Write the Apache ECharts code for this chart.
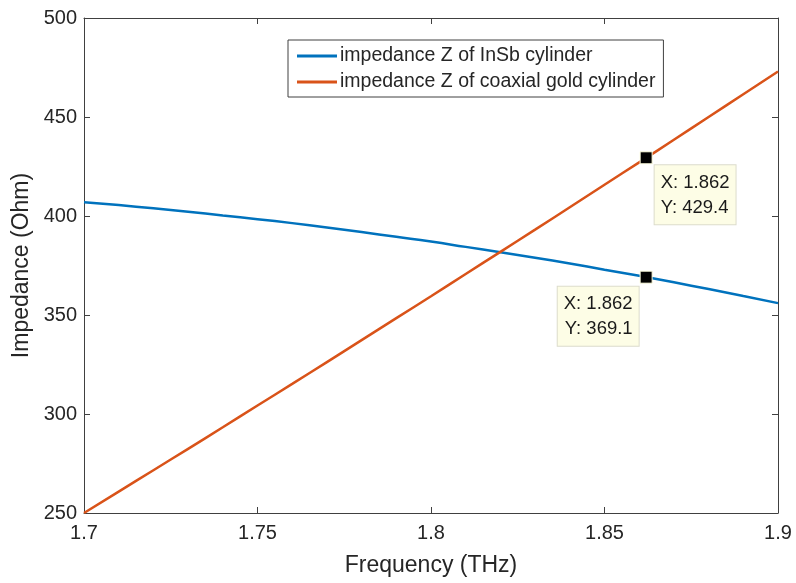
<!DOCTYPE html>
<html>
<head>
<meta charset="utf-8">
<script src="https://cdn.jsdelivr.net/npm/echarts@6/dist/echarts.min.js"></script>
<style>
  html, body { margin: 0; padding: 0; background: #fff; }
  #chart { width: 796px; height: 583px; }
</style>
</head>
<body>
<div id="chart"></div>
<script>
// Frequency samples (THz)
const freq = [1.70, 1.71, 1.72, 1.73, 1.74, 1.75, 1.76, 1.77, 1.78, 1.79, 1.80,
              1.81, 1.82, 1.83, 1.84, 1.85, 1.86, 1.87, 1.88, 1.89, 1.90];
// Impedance of the InSb cylinder (Ohm)
const zInSb = [407.0, 405.5, 403.9, 402.2, 400.3, 398.4, 396.4, 394.2, 391.9, 389.5, 387.1,
               384.4, 381.7, 378.9, 376.0, 372.9, 369.8, 366.5, 363.1, 359.6, 356.0];
// Impedance of the coaxial gold cylinder (Ohm)
const zGold = [250.0, 260.8, 271.6, 282.4, 293.3, 304.3, 315.2, 326.2, 337.3, 348.4, 359.5,
               370.7, 381.9, 393.1, 404.4, 415.8, 427.1, 438.5, 450.0, 461.5, 473.0];
// Data tips
const tipX = 1.862;
const tipGold = 429.4;
const tipInSb = 369.1;

const xTicks = [1.7, 1.75, 1.8, 1.85, 1.9];
const yTicks = [250, 300, 350, 400, 450, 500];

const font = '"Liberation Sans", Arial, Helvetica, sans-serif';
const axisColor = '#404040';
const textColor = '#262626';

const pair = (xs, ys) => xs.map((x, i) => [x, ys[i]]);

const tipLabel = (pos, align) => ({
  show: true,
  position: pos,
  align: align,
  formatter: p => 'X: ' + p.value[0].toFixed(3) + '\nY: ' + p.value[1].toFixed(1),
  fontFamily: font,
  fontSize: 18.5,
  lineHeight: 25,
  color: '#1a1a1a',
  backgroundColor: '#fdfde6',
  borderColor: '#dcdccc',
  borderWidth: 1,
  padding: [5, 6, 4, 6]
});

const chart = echarts.init(document.getElementById('chart'), null, { renderer: 'canvas' });

const xBase = {
  type: 'value', min: xTicks[0], max: xTicks[xTicks.length - 1], interval: 0.05,
  axisLine: { show: true, lineStyle: { color: axisColor, width: 1 } },
  axisTick: { show: true, inside: true, length: 6, lineStyle: { color: axisColor } },
  splitLine: { show: false }
};
const yBase = {
  type: 'value', min: yTicks[0], max: yTicks[yTicks.length - 1], interval: 50,
  axisLine: { show: true, lineStyle: { color: axisColor, width: 1 } },
  axisTick: { show: true, inside: true, length: 6, lineStyle: { color: axisColor } },
  splitLine: { show: false }
};

chart.setOption({
  animation: false,
  grid: { left: 84, right: 18, top: 18, bottom: 70, containLabel: false },
  legend: {
    orient: 'vertical',
    left: 288, top: 40,
    data: ['impedance Z of InSb cylinder', 'impedance Z of coaxial gold cylinder'],
    icon: 'rect',
    itemWidth: 40, itemHeight: 3, itemGap: 4,
    backgroundColor: '#fff',
    borderColor: axisColor, borderWidth: 1,
    padding: [5, 8, 4, 9],
    textStyle: { fontFamily: font, fontSize: 19.5, color: textColor, lineHeight: 22, padding: [0, 0, 0, -2] }
  },
  xAxis: [
    Object.assign({}, xBase, {
      position: 'bottom',
      name: 'Frequency (THz)', nameLocation: 'middle', nameGap: 41,
      nameTextStyle: { fontFamily: font, fontSize: 23, color: textColor },
      axisLabel: { fontFamily: font, fontSize: 20, color: textColor, margin: 10,
                   formatter: v => String(+v.toFixed(2)) }
    }),
    Object.assign({}, xBase, { position: 'top', axisLabel: { show: false } })
  ],
  yAxis: [
    Object.assign({}, yBase, {
      position: 'left',
      name: 'Impedance (Ohm)', nameLocation: 'middle', nameGap: 49,
      nameTextStyle: { fontFamily: font, fontSize: 23, color: textColor },
      axisLabel: { fontFamily: font, fontSize: 20, color: textColor, margin: 7 }
    }),
    Object.assign({}, yBase, { position: 'right', axisLabel: { show: false } })
  ],
  series: [
    {
      name: 'impedance Z of InSb cylinder', type: 'line',
      data: pair(freq, zInSb), smooth: true, showSymbol: false,
      lineStyle: { color: '#0072BD', width: 2.5 }, itemStyle: { color: '#0072BD' }
    },
    {
      name: 'impedance Z of coaxial gold cylinder', type: 'line',
      data: pair(freq, zGold), smooth: true, showSymbol: false,
      lineStyle: { color: '#D95319', width: 2.5 }, itemStyle: { color: '#D95319' }
    },
    {
      type: 'scatter', symbol: 'rect', symbolSize: 12, z: 5,
      itemStyle: { color: '#000', opacity: 1, borderColor: '#ffffe0', borderWidth: 1 },
      data: [
        { value: [tipX, tipGold], label: tipLabel([15, 14], 'left') },
        { value: [tipX, tipInSb], label: tipLabel([-1, 16], 'right') }
      ]
    }
  ]
});
</script>
</body>
</html>
